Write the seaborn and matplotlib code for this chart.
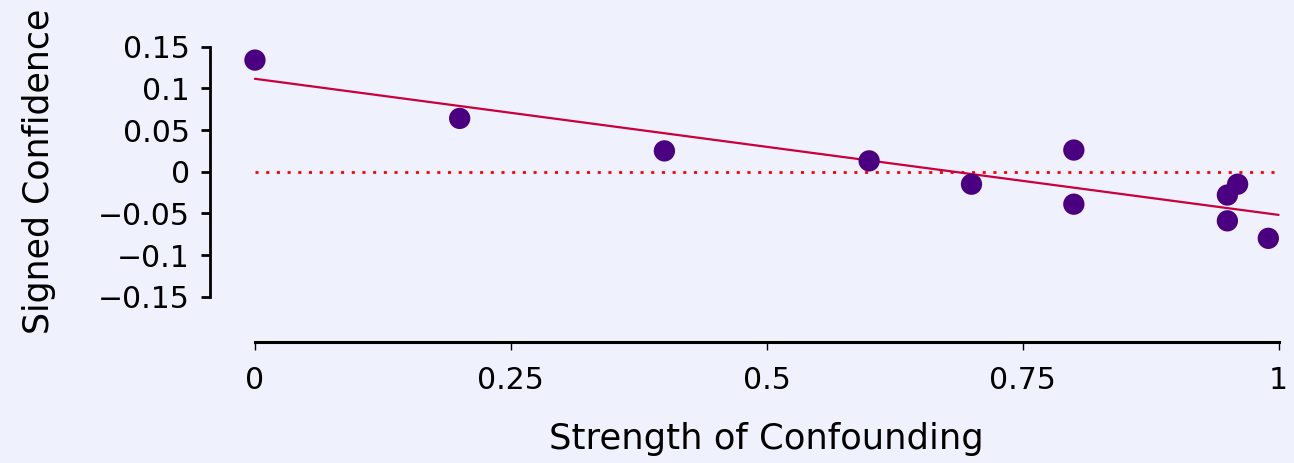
import numpy as np
import pandas as pd
import matplotlib
matplotlib.use("Agg")
import matplotlib.pyplot as plt
import seaborn as sns

# data
strength = [0.0, 0.2, 0.4, 0.6, 0.7, 0.8, 0.8, 0.95, 0.96, 0.95, 0.99]
signed_conf = [0.134, 0.064, 0.025, 0.013, -0.015, 0.026, -0.039, -0.028, -0.015, -0.059, -0.080]
x_ticks = [0, 0.25, 0.5, 0.75, 1]
x_ticklabels = ["0", "0.25", "0.5", "0.75", "1"]
y_ticks = [-0.15, -0.1, -0.05, 0, 0.05, 0.1, 0.15]
y_ticklabels = ["\u22120.15", "\u22120.1", "\u22120.05", "0", "0.05", "0.1", "0.15"]

bg = "#eff1fd"
sns.set_theme(style="ticks")
plt.rcParams["font.family"] = ["DejaVu Sans"]

df = pd.DataFrame({"Strength of Confounding": strength, "Signed Confidence": signed_conf})

fig = plt.figure(figsize=(12.94, 4.63), dpi=100, facecolor=bg)
ax = fig.add_axes([0.1733, 0.3413, 0.8385, 0.5757])
ax.set_facecolor(bg)

sns.scatterplot(data=df, x="Strength of Confounding", y="Signed Confidence", ax=ax,
                color="#4b0082", s=235, edgecolor="none", zorder=3, clip_on=False)

slope, intercept = np.polyfit(strength, signed_conf, 1)
xl = np.array([0.0, 1.0])
ax.plot(xl, intercept + slope * xl, color="#c8003c", lw=1.6, zorder=2)
ax.plot(xl, [0, 0], color="#ff0000", lw=2.0, dashes=(1.1, 2.75), zorder=1)

ax.set_xlim(-0.03, 1.03)
ax.set_ylim(-0.16, 0.16)
ax.set_xticks(x_ticks)
ax.set_xticklabels(x_ticklabels)
ax.set_yticks(y_ticks)
ax.set_yticklabels(y_ticklabels)

for s in ["top", "right"]:
    ax.spines[s].set_visible(False)
ax.spines["left"].set_position(("outward", 10.3))
ax.spines["bottom"].set_position(("outward", 26.6))
ax.spines["left"].set_bounds(-0.15, 0.15)
ax.spines["bottom"].set_bounds(0, 1)
ax.spines["left"].set_linewidth(2.0)
ax.spines["bottom"].set_linewidth(2.2)
ax.spines["left"].set_color("black")
ax.spines["bottom"].set_color("black")

ax.tick_params(axis="y", length=6.5, width=2.0, labelsize=21.5, color="black", labelcolor="black", pad=8)
ax.tick_params(axis="x", length=6.0, width=1.0, labelsize=21.5, color="black", labelcolor="black", pad=11)

ax.set_xlabel("Strength of Confounding", fontsize=25.5, color="black", labelpad=20)
ax.set_ylabel("Signed Confidence", fontsize=25, color="black", labelpad=30)
ax.grid(False)

fig.savefig("out.png", dpi=100, facecolor=bg)
